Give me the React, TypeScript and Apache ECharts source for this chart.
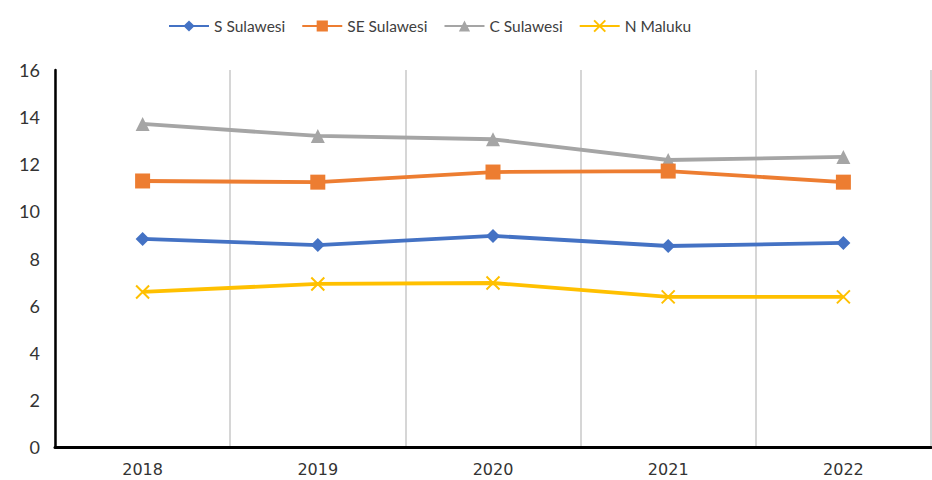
import React, { useEffect, useRef } from "react";
import * as echarts from "echarts";

const years = ["2018", "2019", "2020", "2021", "2022"];
const sSulawesi = [8.83, 8.57, 8.96, 8.53, 8.66];
const seSulawesi = [11.29, 11.24, 11.67, 11.71, 11.24];
const cSulawesi = [13.71, 13.2, 13.06, 12.18, 12.31];
const nMaluku = [6.58, 6.92, 6.96, 6.37, 6.37];
const seriesNames = ["S Sulawesi", "SE Sulawesi", "C Sulawesi", "N Maluku"];

const colors = ["#4472C4", "#ED7D31", "#A5A5A5", "#FFC000"];
const crossPath = "path://M0,0L10,10M10,0L0,10";

export default function App() {
  const ref = useRef<HTMLDivElement>(null);
  useEffect(() => {
    document.body.style.margin = "0";
    const chart = echarts.init(ref.current!, undefined, { renderer: "svg" });
    const data = [sSulawesi, seSulawesi, cSulawesi, nMaluku];
    const symbols = ["diamond", "rect", "triangle", crossPath];
    const sizes = [14, 15, 14, 13];
    chart.setOption({
      animation: false,
      textStyle: { fontFamily: "Lato" },
      legend: {
        top: 13,
        left: 163,
        itemWidth: 40,
        itemHeight: 14,
        itemGap: 16,
        textStyle: { fontSize: 15.5, color: "#404040", fontFamily: "Lato" },
        data: seriesNames,
      },
      grid: { left: 55, right: 1, top: 70, bottom: 33 },
      xAxis: {
        type: "category",
        data: years,
        boundaryGap: true,
        axisLine: { lineStyle: { color: "#000", width: 3 } },
        axisTick: { show: false },
        splitLine: { show: true, lineStyle: { color: "#c8c8c8", width: 1.5 } },
        axisLabel: { fontSize: 16, color: "#333", margin: 14, fontFamily: "DejaVu Sans" },
      },
      yAxis: {
        type: "value",
        min: 0,
        max: 16,
        interval: 2,
        axisLine: { show: true, lineStyle: { color: "#000", width: 2.5 } },
        axisTick: { show: false },
        splitLine: { show: false },
        axisLabel: { fontSize: 18, color: "#333", margin: 15 },
      },
      series: seriesNames.map((name, i) => ({
        name,
        type: "line",
        data: data[i],
        symbol: symbols[i],
        symbolSize: sizes[i],
        showAllSymbol: true,
        lineStyle: { color: colors[i], width: 3.8 },
        itemStyle: {
          color: colors[i],
          borderColor: colors[i],
          borderWidth: i === 3 ? 2 : 0,
        },
        z: 10 - i,
      })),
    });
    return () => chart.dispose();
  }, []);
  return <div ref={ref} style={{ width: 932, height: 480 }} />;
}
